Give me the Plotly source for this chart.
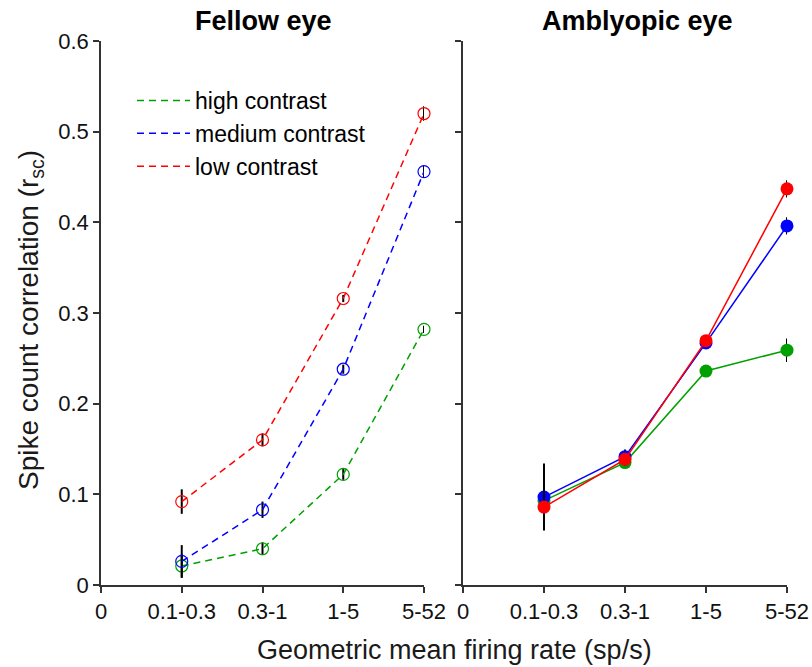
import plotly.graph_objects as go

# ---- data ----
categories = ["0.1-0.3", "0.3-1", "1-5", "5-52"]
x_pos = [1, 2, 3, 4]
x_tick_vals = [0, 1, 2, 3, 4]
x_tick_text = ["0", "0.1-0.3", "0.3-1", "1-5", "5-52"]
y_tick_vals = [0, 0.1, 0.2, 0.3, 0.4, 0.5, 0.6]
y_tick_text = ["0", "0.1", "0.2", "0.3", "0.4", "0.5", "0.6"]

series_names = ["high contrast", "medium contrast", "low contrast"]

# Fellow eye (dashed, open markers)
fellow_high = [0.021, 0.040, 0.122, 0.282]
fellow_high_err = [0.013, 0.007, 0.006, 0.004]
fellow_med = [0.026, 0.083, 0.238, 0.456]
fellow_med_err = [0.018, 0.009, 0.005, 0.007]
fellow_low = [0.092, 0.160, 0.316, 0.520]
fellow_low_err = [0.0135, 0.007, 0.004, 0.008]

# Amblyopic eye (solid, filled markers)
ambly_high = [0.093, 0.135, 0.236, 0.259]
ambly_high_err = [0.030, 0.006, 0.006, 0.013]
ambly_med = [0.097, 0.1415, 0.267, 0.396]
ambly_med_err = [0.037, 0.008, 0.005, 0.0095]
ambly_low = [0.086, 0.1386, 0.2695, 0.437]
ambly_low_err = [0.025, 0.007, 0.005, 0.0095]

colors = ["#00A000", "#0000FF", "#FF0000"]
FONT = "Liberation Sans, Arial, sans-serif"
AXCOL = "#333333"

fig = go.Figure()

fellow = [(fellow_high, fellow_high_err), (fellow_med, fellow_med_err), (fellow_low, fellow_low_err)]
ambly = [(ambly_high, ambly_high_err), (ambly_med, ambly_med_err), (ambly_low, ambly_low_err)]

for (vals, errs), col, name in zip(fellow, colors, series_names):
    fig.add_trace(go.Scatter(
        x=x_pos, y=vals, mode="lines+markers", name=name, showlegend=False,
        line=dict(color=col, width=1.5, dash="7px,5px"),
        marker=dict(symbol="circle-open", size=12, color=col, line=dict(width=1.2)),
        error_y=dict(type="data", array=errs, color="black", thickness=2, width=0),
        cliponaxis=False, xaxis="x", yaxis="y"))

for (vals, errs), col, name in zip(ambly, colors, series_names):
    fig.add_trace(go.Scatter(
        x=x_pos, y=vals, mode="lines+markers", name=name, showlegend=False,
        line=dict(color=col, width=1.5),
        marker=dict(symbol="circle", size=13, color=col),
        error_y=dict(type="data", array=errs, color="black", thickness=2, width=0),
        cliponaxis=False, xaxis="x2", yaxis="y2"))

# legend entries (dashed lines only)
for col, name in zip(colors, series_names):
    fig.add_trace(go.Scatter(
        x=[None], y=[None], mode="lines", name=name,
        line=dict(color=col, width=1.5, dash="7px,5px"),
        xaxis="x", yaxis="y"))

W, H = 812, 667
def px(v):
    return v / W
def py(v):
    return 1 - v / H

axis_common = dict(showline=True, linecolor=AXCOL, linewidth=1.5, ticks="outside",
                   ticklen=6, tickwidth=1.5, tickcolor=AXCOL, showgrid=False, zeroline=False,
                   automargin=False,
                   tickfont=dict(family=FONT, size=22, color="#111111"))

fig.update_layout(
    template="none",
    width=W, height=H,
    margin=dict(l=0, r=0, t=0, b=0, pad=0, autoexpand=False),
    paper_bgcolor="white", plot_bgcolor="white",
    font=dict(family=FONT, color="black"),
    xaxis=dict(domain=[px(101), px(424)], range=[0, 4], tickvals=x_tick_vals,
               ticktext=x_tick_text, anchor="y", **axis_common),
    yaxis=dict(domain=[py(585), py(41)], range=[0, 0.6], tickvals=y_tick_vals,
               ticktext=y_tick_text, anchor="x", **axis_common),
    xaxis2=dict(domain=[px(463), px(787)], range=[0, 4], tickvals=x_tick_vals,
                ticktext=x_tick_text, anchor="y2", **axis_common),
    yaxis2=dict(domain=[py(585), py(41)], range=[0, 0.6], tickvals=y_tick_vals,
                ticktext=y_tick_text, anchor="x2", showticklabels=False, **axis_common),
    legend=dict(x=px(132), y=py(79), xanchor="left", yanchor="top",
                bgcolor="rgba(0,0,0,0)", font=dict(family=FONT, size=23, color="black"),
                tracegroupgap=0, itemwidth=53),
    showlegend=True,
    annotations=[
        dict(text="<b>Fellow eye</b>", x=px(263), y=py(21), xref="paper", yref="paper",
             showarrow=False, font=dict(family=FONT, size=27, color="black"),
             xanchor="center", yanchor="middle"),
        dict(text="<b>Amblyopic eye</b>", x=px(637), y=py(21), xref="paper", yref="paper",
             showarrow=False, font=dict(family=FONT, size=27, color="black"),
             xanchor="center", yanchor="middle"),
        dict(text="Geometric mean firing rate (sp/s)", x=px(454), y=py(650), xref="paper",
             yref="paper", showarrow=False, font=dict(family=FONT, size=27, color="#1a1a1a"),
             xanchor="center", yanchor="middle"),
        dict(text="Spike count correlation (r<sub>sc</sub>)", x=px(30), y=py(320),
             xref="paper", yref="paper", showarrow=False, textangle=-90,
             font=dict(family=FONT, size=28, color="#1a1a1a"),
             xanchor="center", yanchor="middle"),
    ],
)

fig.write_html("out.html", config={"displayModeBar": False},
               post_script="document.body.style.margin='0';")
